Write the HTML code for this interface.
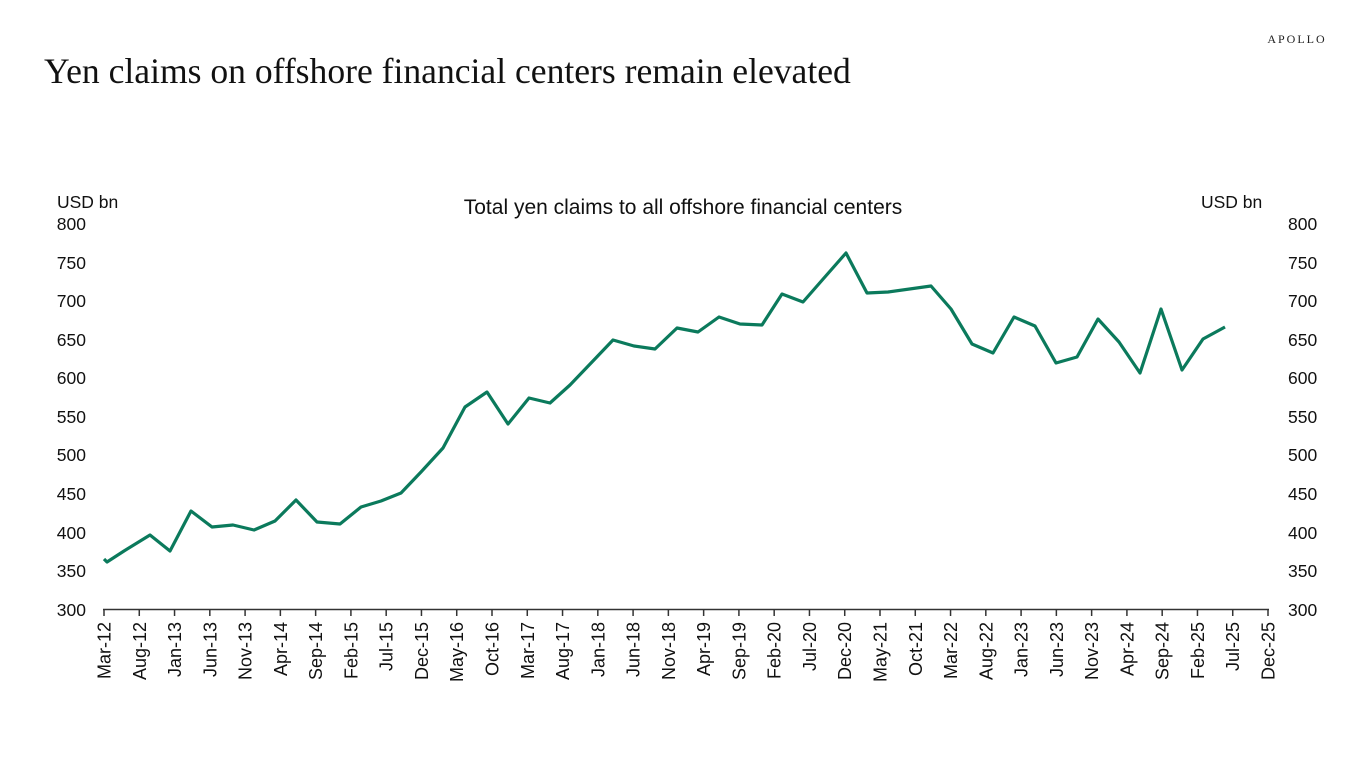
<!DOCTYPE html>
<html><head><meta charset="utf-8"><style>
body{margin:0;width:1366px;height:768px;background:#fff;overflow:hidden}
svg{display:block}
</style></head><body>
<svg width="1366" height="768" xmlns="http://www.w3.org/2000/svg" font-family="'Liberation Sans',sans-serif">
<text x="1297" y="43" font-family="'Liberation Serif',serif" font-size="12" letter-spacing="2" text-anchor="middle" fill="#222">APOLLO</text>
<text x="44" y="83" font-family="'Liberation Serif',serif" font-size="35.6" fill="#111">Yen claims on offshore financial centers remain elevated</text>
<text x="683" y="214" font-size="21" text-anchor="middle" fill="#111">Total yen claims to all offshore financial centers</text>
<text x="57" y="208" font-size="17.5" fill="#111">USD bn</text>
<text x="1201" y="208" font-size="17.5" fill="#111">USD bn</text>
<g font-size="17.5" fill="#111">
<text x="86" y="230" text-anchor="end">800</text><text x="86" y="269" text-anchor="end">750</text>
<text x="86" y="307" text-anchor="end">700</text><text x="86" y="346" text-anchor="end">650</text>
<text x="86" y="384" text-anchor="end">600</text><text x="86" y="423" text-anchor="end">550</text>
<text x="86" y="461" text-anchor="end">500</text><text x="86" y="500" text-anchor="end">450</text>
<text x="86" y="539" text-anchor="end">400</text><text x="86" y="577" text-anchor="end">350</text>
<text x="86" y="616" text-anchor="end">300</text>
<text x="1288" y="230">800</text><text x="1288" y="269">750</text>
<text x="1288" y="307">700</text><text x="1288" y="346">650</text>
<text x="1288" y="384">600</text><text x="1288" y="423">550</text>
<text x="1288" y="461">500</text><text x="1288" y="500">450</text>
<text x="1288" y="539">400</text><text x="1288" y="577">350</text>
<text x="1288" y="616">300</text>
</g>
<line x1="103" y1="609.5" x2="1269" y2="609.5" stroke="#333" stroke-width="1.5"/>
<g id="ticks" stroke="#333" stroke-width="1.5"></g>
<g id="lbls" font-size="18" fill="#111"></g>
<polyline fill="none" stroke="#0b7a5c" stroke-width="3.2" stroke-linejoin="round" points="104,559 107,562 124,551 150,535 170,551 191,511 212,527 233,525 254,530 275,521 296,500 317,522 340,524 361,507 381,501 401,493 421,472 443,448 465,407 487,392 508,424 529,398 550,403 570,385 592,362 613,340 634,346 655,349 677,328 698,332 719,317 740,324 762,325 782,294 803,302 824,278 846,253 867,293 888,292 931,286 951,309 972,344 993,353 1014,317 1035,326 1056,363 1077,357 1098,319 1119,342 1140,373 1161,309 1182,370 1203,339 1225,327"/>
<script>
var L="Mar-12 Aug-12 Jan-13 Jun-13 Nov-13 Apr-14 Sep-14 Feb-15 Jul-15 Dec-15 May-16 Oct-16 Mar-17 Aug-17 Jan-18 Jun-18 Nov-18 Apr-19 Sep-19 Feb-20 Jul-20 Dec-20 May-21 Oct-21 Mar-22 Aug-22 Jan-23 Jun-23 Nov-23 Apr-24 Sep-24 Feb-25 Jul-25 Dec-25".split(" ");
var t=document.getElementById("ticks"),g=document.getElementById("lbls"),ns="http://www.w3.org/2000/svg";
L.forEach(function(s,i){var x=104+i*(1164/33);
var l=document.createElementNS(ns,"line");l.setAttribute("x1",x);l.setAttribute("x2",x);l.setAttribute("y1",609);l.setAttribute("y2",616);t.appendChild(l);
var tx=document.createElementNS(ns,"text");tx.setAttribute("transform","translate("+(x+6.5)+",622) rotate(-90)");tx.setAttribute("text-anchor","end");tx.textContent=s;g.appendChild(tx);});
</script>
</svg>
</body></html>
